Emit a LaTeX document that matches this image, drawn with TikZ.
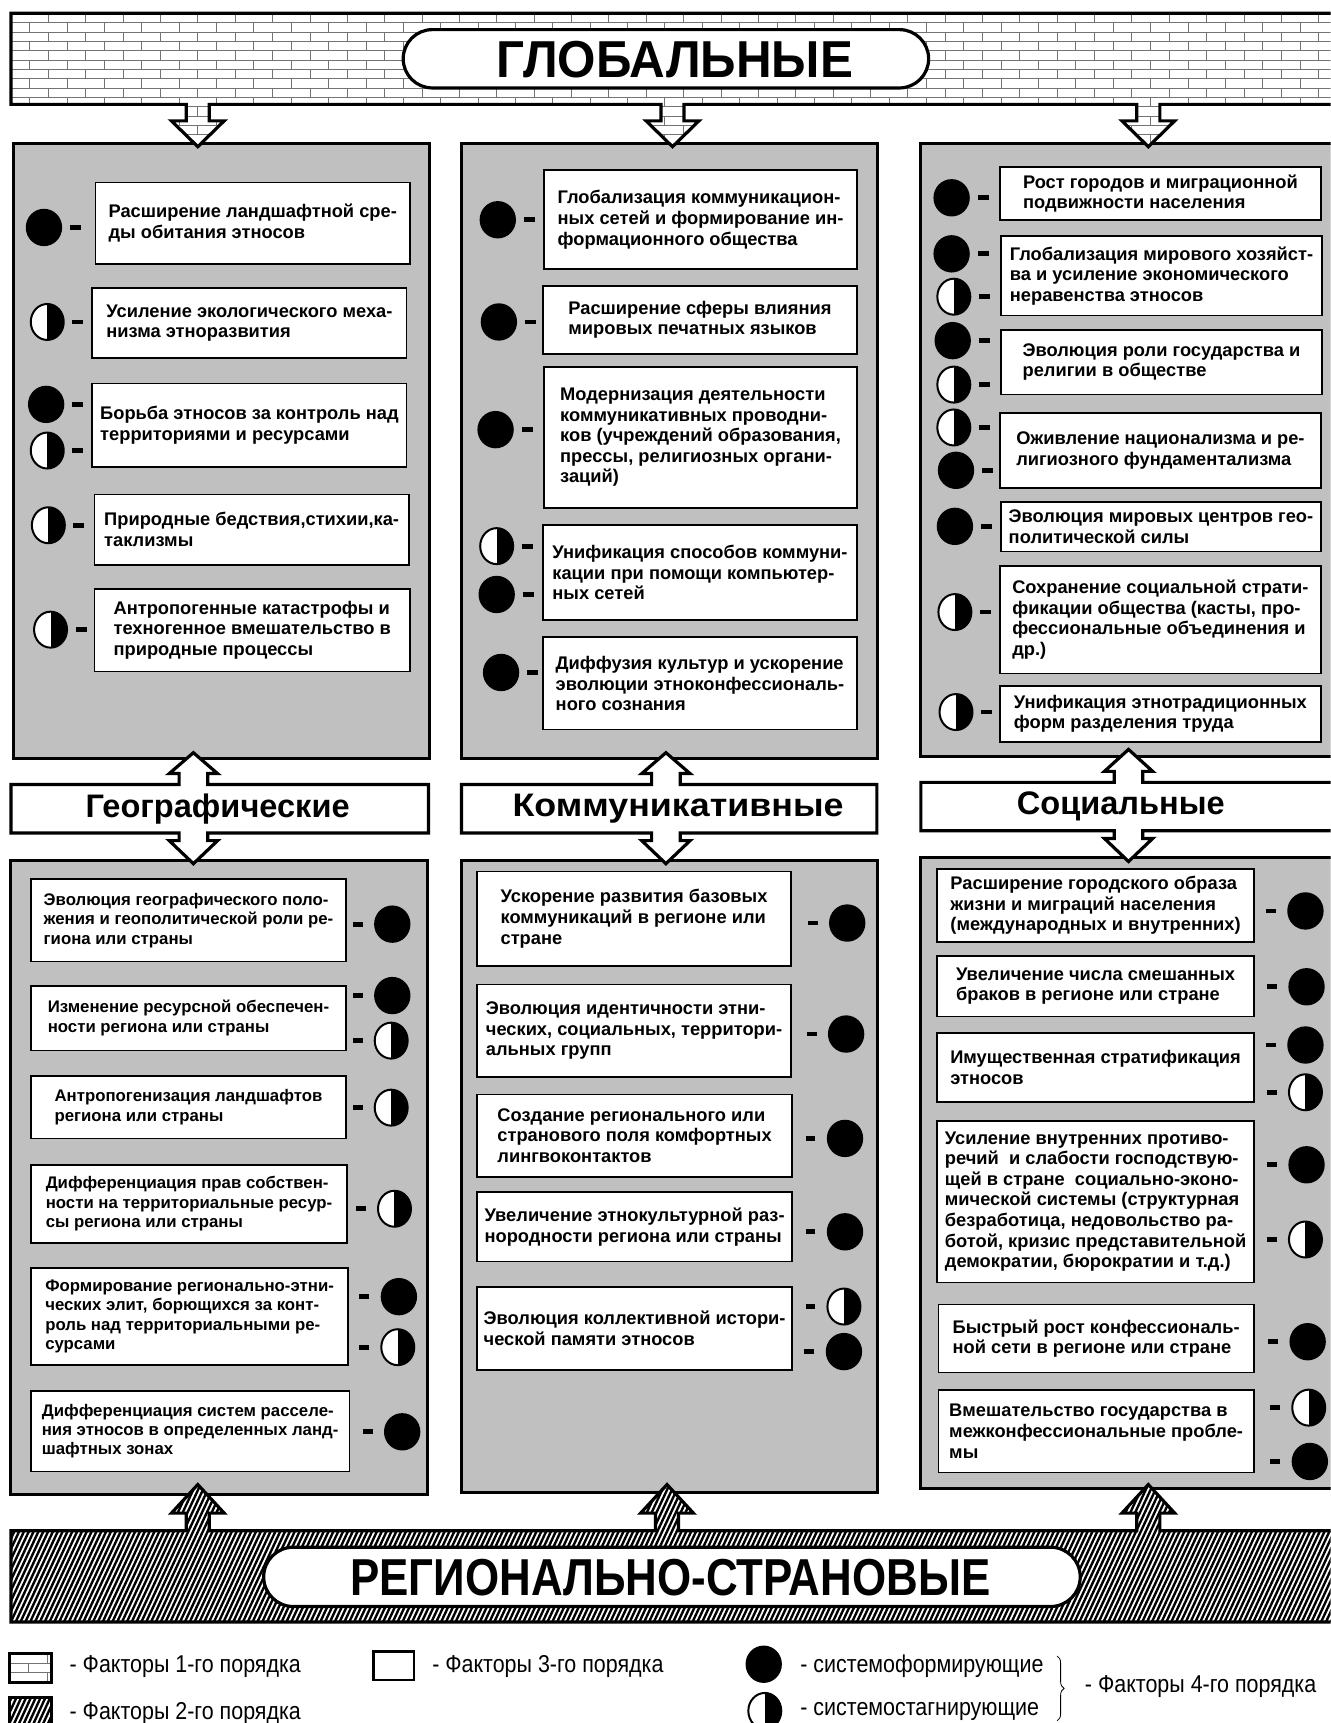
\documentclass[tikz,border=0pt]{standalone}
\usepackage{fontspec}
\setmainfont{Liberation Sans}
\newfontfamily\titlefont[FakeStretch=0.95]{Liberation Sans}
\newfontfamily\regfont[FakeStretch=0.845]{Liberation Sans}
\newfontfamily\widefont[FakeStretch=1.1]{Liberation Sans}
\newfontfamily\keyfont[FakeStretch=0.88]{Liberation Sans}
\usetikzlibrary{shapes.geometric,shapes.misc,decorations.pathreplacing}
\definecolor{panelgray}{RGB}{192,192,192}

\tikzset{
  panel/.style={draw=black,line width=1.5pt,fill=panelgray},
  factor/.style={draw=black,line width=0.85pt,fill=white,align=left,inner sep=2pt,
    font=\bfseries\fontsize{9.15}{10.3}\selectfont},
  formdot/.style={ellipse,fill=black,minimum width=18.2pt,minimum height=18.7pt,inner sep=0pt},
  stagdot/.style={ellipse,draw=black,line width=1pt,fill=white,minimum width=16.5pt,
    minimum height=18pt,inner sep=0pt,
    path picture={\fill[black] (path picture bounding box.north) rectangle (path picture bounding box.south east);}},
  hyph/.style={line width=2.4pt},
  band/.style={draw=black,line width=1.6pt},
  brickline/.style={draw=black!55,line width=0.35pt},
  hatchline/.style={draw=black,line width=1.2pt},
  pill/.style={rounded rectangle,draw=black,line width=1.6pt,fill=white,inner sep=0pt},
  titletext/.style={inner sep=0pt,font=\bfseries\fontsize{26}{26}\selectfont},
  headtext/.style={font=\bfseries\fontsize{16.3}{16.3}\selectfont,inner sep=0pt},
  keytext/.style={font=\keyfont\fontsize{12.2}{12.2}\selectfont,inner sep=0pt,anchor=west},
}

% factor box: name, x1, y1, x2, y2, text
\newcommand\factor[6]{%
  \pgfmathsetmacro\fw{(#4-#2)*0.55}%
  \pgfmathsetmacro\fh{(#5-#3)*0.55}%
  \node[factor,minimum width=\fw pt,minimum height=\fh pt] (#1) at ({(#2+#4)/2},{(#3+#5)/2}) {#6};}
% dots with their dash, r = dash on the right, l = dash on the left
\newcommand\formr[3]{\node[formdot] (#1) at (#2,#3) {};
  \draw[hyph] ([xshift=3.8pt]#1.east) -- ++(10,0);}
\newcommand\stagr[3]{\node[stagdot] (#1) at (#2,#3) {};
  \draw[hyph] ([xshift=3.8pt]#1.east) -- ++(10,0);}
\newcommand\forml[3]{\node[formdot] (#1) at (#2,#3) {};
  \draw[hyph] ([xshift=-5.5pt]#1.west) -- ++(-9,0);}
\newcommand\stagl[3]{\node[stagdot] (#1) at (#2,#3) {};
  \draw[hyph] ([xshift=-5.5pt]#1.west) -- ++(-9,0);}
% brick rows: x0, y0, rows, columns
\newcommand\brickrows[4]{%
  \foreach \k in {0,...,#3}{
    \draw[brickline] (#1,#2+\k*8.5) -- ++(#4*34,0);
    \foreach \j in {0,...,#4}{
      \pgfmathsetmacro\bx{#1+\j*34+mod(\k,2)*17}
      \draw[brickline] (\bx,#2+\k*8.5) -- ++(0,8.5);
    }
  }}

\begin{document}
\begin{tikzpicture}[x=0.55pt,y=-0.55pt]
\useasboundingbox (0,0) rectangle (1211,1568);
\clip (0,0) rectangle (1211,1568);

% panels
\draw[panel] (12,131) rectangle (391,690);
\draw[panel] (420,131) rectangle (799,690);
\draw[panel] (838,131) rectangle (1240,688);
\draw[panel] (10,783) rectangle (389,1360);
\draw[panel] (420,783) rectangle (799,1358);
\draw[panel] (838,780) rectangle (1240,1355);

% global factors band
\def\globpath{(10,12) -- (1240,12) -- (1240,95)
  -- (1055.5,95) -- (1055.5,110) -- (1069,110) -- (1045,133.5) -- (1021,110) -- (1034.5,110) -- (1034.5,95)
  -- (622.5,95) -- (622.5,110) -- (636,110) -- (612,133.5) -- (588,110) -- (601.5,110) -- (601.5,95)
  -- (190.5,95) -- (190.5,110) -- (204,110) -- (180,133.5) -- (156,110) -- (169.5,110) -- (169.5,95)
  -- (10,95) -- cycle}
\fill[white] \globpath;
\begin{scope}
  \clip \globpath;
  \brickrows{10}{12}{15}{37}
\end{scope}
\draw[band] \globpath;
\node[pill,minimum width=263pt,minimum height=29.2pt] (glob) at (606,53.5) {};
\node[titletext,font=\titlefont\bfseries\fontsize{26}{26}\selectfont] (globt) at (614,54) {ГЛОБАЛЬНЫЕ};

% regional factors band
\def\regpath{(10,1476) -- (10,1393)
  -- (169.5,1393) -- (169.5,1377) -- (156,1377) -- (180,1351) -- (204,1377) -- (190.5,1377) -- (190.5,1393)
  -- (596.5,1393) -- (596.5,1377) -- (583,1377) -- (607,1351) -- (631,1377) -- (617.5,1377) -- (617.5,1393)
  -- (1034.5,1393) -- (1034.5,1377) -- (1021,1377) -- (1045,1351) -- (1069,1377) -- (1055.5,1377) -- (1055.5,1393)
  -- (1240,1393) -- (1240,1476) -- cycle}
\fill[white] \regpath;
\begin{scope}
  \clip \regpath;
  \foreach \i in {0,...,300} \draw[hatchline] (\i*4.4-80,1480) -- ++(68,-146);
\end{scope}
\draw[band] \regpath;
\node[pill,minimum width=408.7pt,minimum height=29.7pt] (reg) at (611.5,1435) {};
\node[titletext,font=\regfont\bfseries\fontsize{26}{26}\selectfont] (regt) at (610,1436) {РЕГИОНАЛЬНО-СТРАНОВЫЕ};

% headers with double arrows
\draw[band,fill=white] (10,714) -- (163,714) -- (163,704) -- (154,704) -- (176,685) -- (198,704) -- (189,704)
  -- (189,714) -- (390,714) -- (390,758) -- (189,758) -- (189,765) -- (198,765) -- (176,786) -- (154,765)
  -- (163,765) -- (163,758) -- (10,758) -- cycle;
\draw[band,fill=white] (420,714) -- (593,714) -- (593,704) -- (584,704) -- (606,685) -- (628,704) -- (619,704)
  -- (619,714) -- (798,714) -- (798,758) -- (619,758) -- (619,765) -- (628,765) -- (606,786) -- (584,765)
  -- (593,765) -- (593,758) -- (420,758) -- cycle;
\draw[band,fill=white] (838,712) -- (1014,712) -- (1014,702) -- (1005,702) -- (1027,682) -- (1049,702) -- (1040,702)
  -- (1040,712) -- (1240,712) -- (1240,756) -- (1040,756) -- (1040,763) -- (1049,763) -- (1027,784) -- (1005,763)
  -- (1014,763) -- (1014,756) -- (838,756) -- cycle;
\node[headtext] (geo) at (198,736) {Географические};
\node[headtext,font=\widefont\bfseries\fontsize{16.3}{16.3}\selectfont] (com) at (617,736) {Коммуникативные};
\node[headtext] (soc) at (1020,734) {Социальные};

% geographic, global level
\factor{gu1}{87}{166}{373}{240}{Расширение ландшафтной сре-\\ды обитания этносов}
\formr{gu1a}{40}{207}
\factor{gu2}{84}{262}{370}{326}{Усиление экологического меха-\\низма этноразвития}
\stagr{gu2a}{43}{293}
\factor{gu3}{84}{349}{370}{425}{Борьба этносов за контроль над\\территориями и ресурсами}
\formr{gu3a}{42}{368}
\stagr{gu3b}{43}{410}
\factor{gu4}{86}{450}{372}{514}{Природные бедствия,стихии,ка-\\таклизмы}
\stagr{gu4a}{44}{478}
\factor{gu5}{86}{536}{373}{611}{Антропогенные катастрофы и\\техногенное вмешательство в\\природные процессы}
\stagr{gu5a}{46}{573}

% communicative, global level
\factor{cu1}{495}{155}{780}{245}{Глобализация коммуникацион-\\ных сетей и формирование ин-\\формационного общества}
\formr{cu1a}{453}{200}
\factor{cu2}{494}{260}{780}{322}{Расширение сферы влияния\\мировых печатных языков}
\formr{cu2a}{454}{293}
\factor{cu3}{495}{334}{780}{462}{Модернизация деятельности\\коммуникативных проводни-\\ков (учреждений образования,\\прессы, религиозных органи-\\заций)}
\formr{cu3a}{451}{391}
\factor{cu4}{494}{478}{780}{564}{Унификация способов коммуни-\\кации при помощи компьютер-\\ных сетей}
\stagr{cu4a}{452}{497}
\formr{cu4b}{452}{541}
\factor{cu5}{494}{580}{780}{664}{Диффузия культур и ускорение\\эволюции этноконфессиональ-\\ного сознания}
\formr{cu5a}{456}{612}

% social, global level
\factor{su1}{910}{152}{1202}{200}{Рост городов и миграционной\\подвижности населения}
\formr{su1a}{866}{180}
\factor{su2}{911}{215}{1203}{287}{Глобализация мирового хозяйст-\\ва и усиление экономического\\неравенства этносов}
\formr{su2a}{866}{231}
\stagr{su2b}{868}{270}
\factor{su3}{911}{300}{1203}{359}{Эволюция роли государства и\\религии в обществе}
\formr{su3a}{867}{310}
\stagr{su3b}{868}{350}
\factor{su4}{910}{376}{1202}{444}{Оживление национализма и ре-\\лигиозного фундаментализма}
\stagr{su4a}{868}{389}
\formr{su4b}{870}{428}
\factor{su5}{911}{457}{1202}{502}{Эволюция мировых центров гео-\\политической силы}
\formr{su5a}{869}{479}
\factor{su6}{910}{515}{1202}{613}{Сохранение социальной страти-\\фикации общества (касты, про-\\фессиональные объединения и\\др.)}
\stagr{su6a}{869}{557}
\factor{su7}{910}{624}{1202}{675}{Унификация этнотрадиционных\\форм разделения труда}
\stagr{su7a}{870}{648}

% geographic, regional level
\begin{scope}[factor/.append style={font=\bfseries\fontsize{8.4}{9.7}\selectfont}]
\factor{gl1}{28}{800}{315}{875}{Эволюция географического поло-\\жения и геополитической роли ре-\\гиона или страны}
\forml{gl1a}{357}{841}
\factor{gl2}{28}{897}{315}{956}{Изменение ресурсной обеспечен-\\ности региона или страны}
\forml{gl2a}{357}{906}
\stagl{gl2b}{356}{947}
\factor{gl3}{28}{979}{315}{1036}{Антропогенизация ландшафтов\\региона или страны}
\stagl{gl3a}{356}{1008}
\factor{gl4}{28}{1060}{316}{1131}{Дифференциация прав собствен-\\ности на территориальные ресур-\\сы региона или страны}
\stagl{gl4a}{359}{1100}
\factor{gl5}{28}{1154}{317}{1242}{Формирование регионально-этни-\\ческих элит, борющихся за конт-\\роль над территориальными ре-\\сурсами}
\forml{gl5a}{363}{1180}
\stagl{gl5b}{362}{1226}
\factor{gl6}{28}{1266}{318}{1339}{Дифференциация систем расселе-\\ния этносов в определенных ланд-\\шафтных зонах}
\forml{gl6a}{366}{1303}
\end{scope}

% communicative, regional level
\factor{cl1}{434}{793}{720}{879}{Ускорение развития базовых\\коммуникаций в регионе или\\стране}
\forml{cl1a}{771}{840}
\factor{cl2}{434}{896}{720}{980}{Эволюция идентичности этни-\\ческих, социальных, территори-\\альных групп}
\forml{cl2a}{770}{941}
\factor{cl3}{434}{996}{721}{1071}{Создание регионального или\\странового поля комфортных\\лингвоконтактов}
\forml{cl3a}{769}{1036}
\factor{cl4}{434}{1085}{721}{1148}{Увеличение этнокультурной раз-\\нородности региона или страны}
\forml{cl4a}{769}{1121}
\factor{cl5}{434}{1171}{721}{1247}{Эволюция коллективной истори-\\ческой памяти этносов}
\stagl{cl5a}{768}{1189}
\forml{cl5b}{768}{1230}

% social, regional level
\factor{sl1}{853}{791}{1141}{857}{Расширение городского образа\\жизни и миграций населения\\(международных и внутренних)}
\forml{sl1a}{1188}{829}
\factor{sl2}{853}{870}{1141}{925}{Увеличение числа смешанных\\браков в регионе или стране}
\forml{sl2a}{1189}{898}
\factor{sl3}{853}{940}{1141}{1003}{Имущественная стратификация\\этносов}
\forml{sl3a}{1188}{951}
\stagl{sl3b}{1188}{994}
\factor{sl4}{853}{1020}{1141}{1167}{Усиление внутренних противо-\\речий~ и слабости господствую-\\щей в стране~ социально-эконо-\\мической системы (структурная\\безработица, недовольство ра-\\ботой, кризис представительной\\демократии, бюрократии и т.д.)}
\forml{sl4a}{1189}{1060}
\stagl{sl4b}{1188}{1128}
\factor{sl5}{854}{1187}{1141}{1249}{Быстрый рост конфессиональ-\\ной сети в регионе или стране}
\forml{sl5a}{1190}{1221}
\factor{sl6}{854}{1265}{1141}{1340}{Вмешательство государства в\\межконфессиональные пробле-\\мы}
\stagl{sl6a}{1191}{1281}
\forml{sl6b}{1192}{1330}

% legend
\begin{scope}
  \clip (9,1505) rectangle (47,1531);
  \brickrows{9}{1505}{3}{2}
\end{scope}
\node[draw,line width=1.4pt,minimum width=20.9pt,minimum height=14.3pt,inner sep=0pt] (key1) at (28,1518) {};
\begin{scope}
  \clip (9,1545) rectangle (47,1576);
  \foreach \i in {0,...,14} \draw[hatchline] (\i*4.4-10,1580) -- ++(17,-37);
\end{scope}
\node[draw,line width=1.4pt,minimum width=20.9pt,minimum height=17pt,inner sep=0pt] (key2) at (28,1560.5) {};
\node[draw,line width=1.2pt,minimum width=20.3pt,minimum height=14.3pt,inner sep=0pt] (key3) at (358.5,1516) {};
\node[formdot] (key4) at (695,1514.5) {};
\node[stagdot] (key5) at (696,1557) {};
\node[keytext] (key1t) at (63,1517) {- Факторы 1-го порядка};
\node[keytext] (key2t) at (63,1559) {- Факторы 2-го порядка};
\node[keytext] (key3t) at (393,1517) {- Факторы 3-го порядка};
\node[keytext] (key4t) at (728,1516) {- системоформирующие};
\node[keytext] (key5t) at (728,1557.5) {- системостагнирующие};
\draw[decorate,decoration={brace,amplitude=3.5pt},line width=0.4pt] (962,1507) -- (962,1566);
\node[keytext] (key6t) at (987,1535) {- Факторы 4-го порядка};
\end{tikzpicture}
\end{document}
